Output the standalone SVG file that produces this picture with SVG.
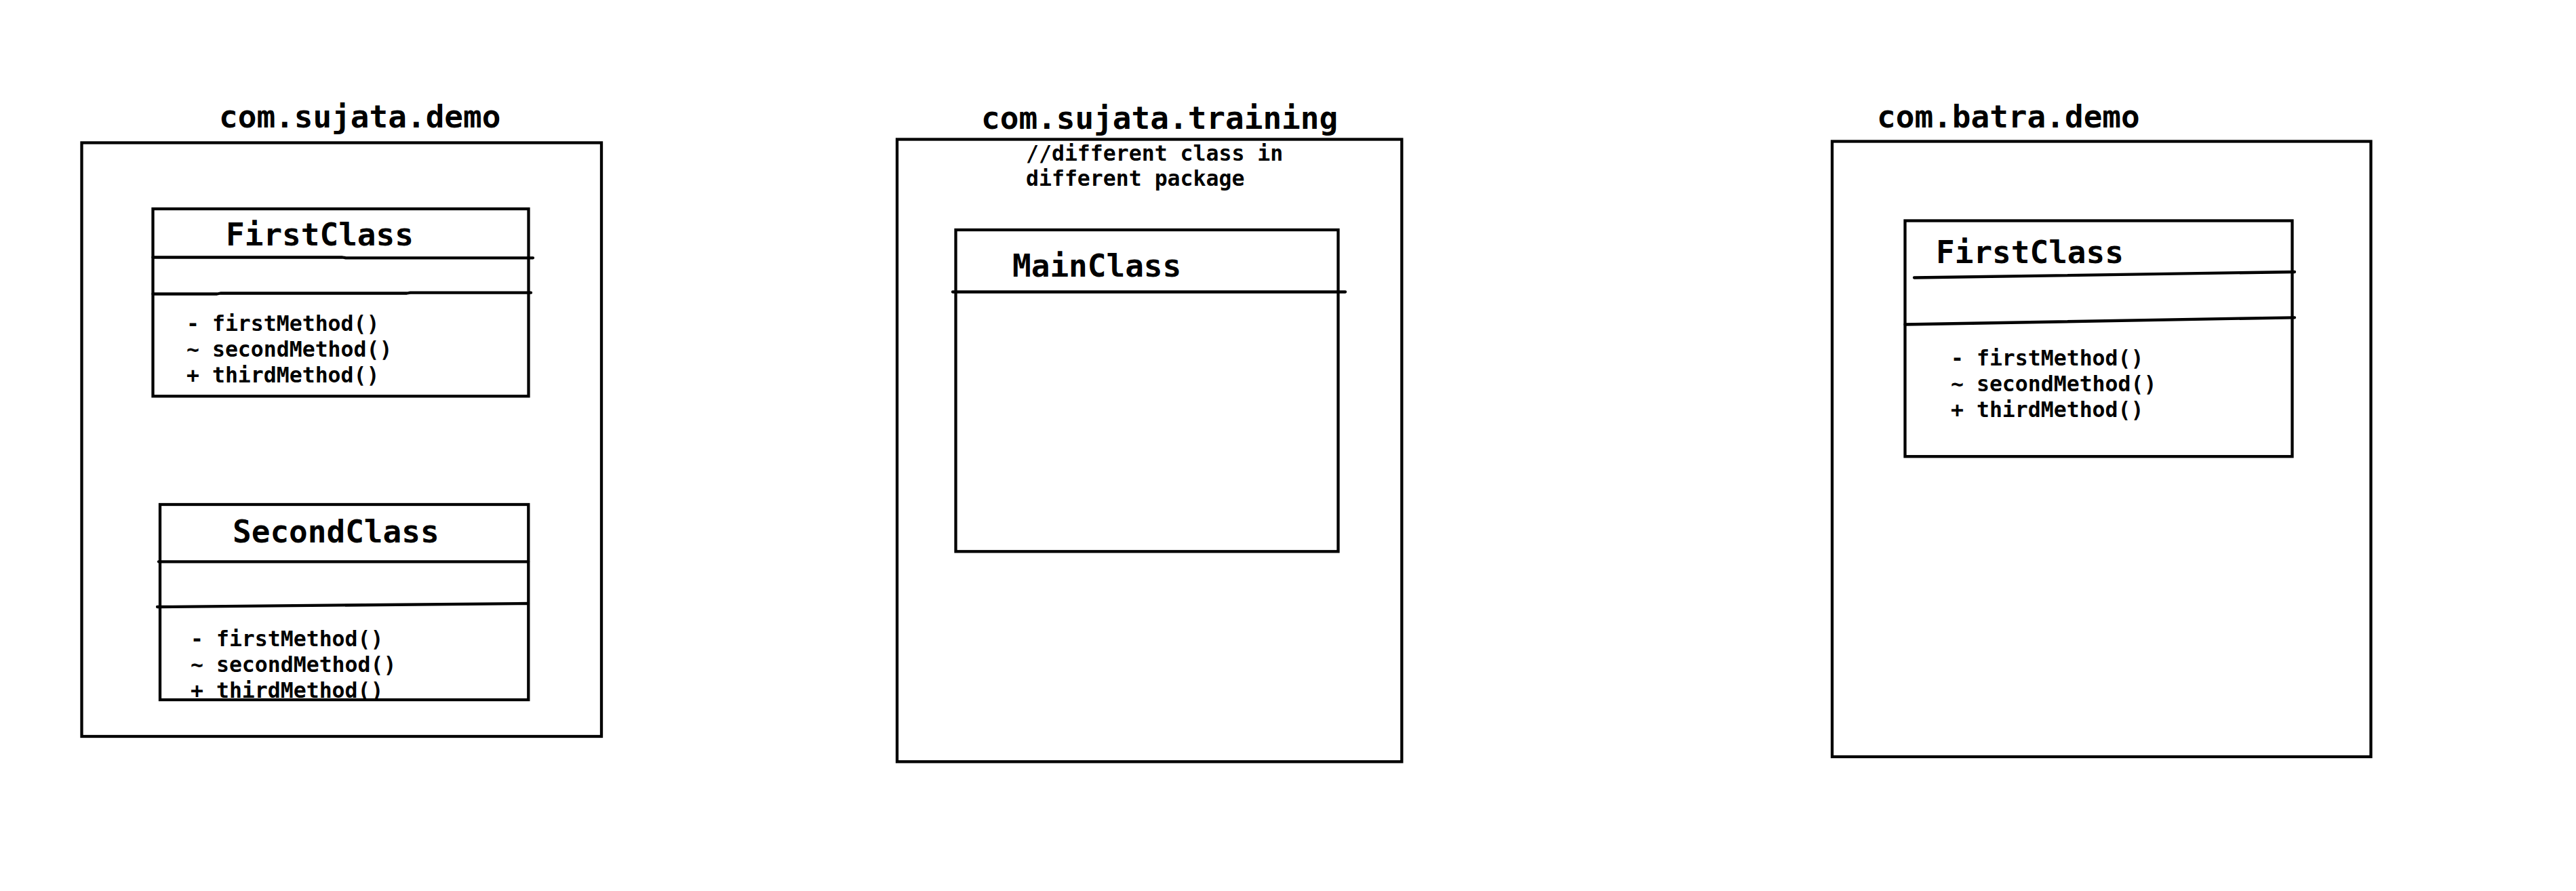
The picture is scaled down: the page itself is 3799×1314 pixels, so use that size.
<svg xmlns="http://www.w3.org/2000/svg" width="3799" height="1314" viewBox="0 0 3799 1314">
<style>
.box{fill:none;stroke:#000;stroke-width:4.3}
.div{fill:none;stroke:#000;stroke-width:4.3;stroke-linecap:round;stroke-linejoin:round}
.t{font-family:"DejaVu Sans Mono","Liberation Mono",monospace;font-weight:bold;fill:#000}
.big{font-size:46px}
.sm{font-size:31.5px}
</style>
<rect x="0" y="0" width="3799" height="1314" fill="#fff"/>

<g id="pkg-com-sujata-demo">
  <text class="t big" x="323" y="188">com.sujata.demo</text>
  <rect class="box" x="120.5" y="210.5" width="766.5" height="875.5"/>
</g>

<g id="class-FirstClass-demo">
  <text class="t big" x="333" y="362">FirstClass</text>
  <text class="t sm" x="275" y="488">- firstMethod()</text>
  <text class="t sm" x="275" y="526">~ secondMethod()</text>
  <text class="t sm" x="275" y="564">+ thirdMethod()</text>
  <rect class="box" x="225.5" y="308" width="554" height="276.3"/>
  <polyline class="div" points="225.5,379.5 505,379.5 510,380.3 786,380.3"/>
  <polyline class="div" points="225.5,433.5 320,433.5 325,432.5 600,432.5 605,431.7 783,431.7"/>
</g>

<g id="class-SecondClass-demo">
  <text class="t big" x="343" y="800">SecondClass</text>
  <text class="t sm" x="281" y="953">- firstMethod()</text>
  <text class="t sm" x="281" y="991">~ secondMethod()</text>
  <text class="t sm" x="281" y="1029">+ thirdMethod()</text>
  <rect class="box" x="236" y="744" width="543.3" height="288"/>
  <polyline class="div" points="234,828.3 779,828.3"/>
  <polyline class="div" points="232,895 779,890"/>
</g>

<g id="pkg-com-sujata-training">
  <text class="t big" x="1447" y="190">com.sujata.training</text>
  <rect class="box" x="1323" y="205.5" width="744.3" height="917.8"/>
  <text class="t sm" x="1513" y="237">//different class in</text>
  <text class="t sm" x="1513" y="274">different package</text>
</g>

<g id="class-MainClass">
  <text class="t big" x="1493" y="408">MainClass</text>
  <rect class="box" x="1409.5" y="339" width="564" height="474.3"/>
  <line class="div" x1="1405" y1="430.5" x2="1984" y2="430.5"/>
</g>

<g id="pkg-com-batra-demo">
  <text class="t big" x="2768" y="188">com.batra.demo</text>
  <rect class="box" x="2702" y="208.5" width="794.5" height="907.5"/>
</g>

<g id="class-FirstClass-batra">
  <text class="t big" x="2855" y="388">FirstClass</text>
  <text class="t sm" x="2877" y="539">- firstMethod()</text>
  <text class="t sm" x="2877" y="577">~ secondMethod()</text>
  <text class="t sm" x="2877" y="615">+ thirdMethod()</text>
  <rect class="box" x="2809.5" y="325.5" width="571" height="347.7"/>
  <line class="div" x1="2823" y1="409.5" x2="3384" y2="401"/>
  <line class="div" x1="2809.5" y1="478.5" x2="3384" y2="468.3"/>
</g>

<g id="connectors"></g>
</svg>
